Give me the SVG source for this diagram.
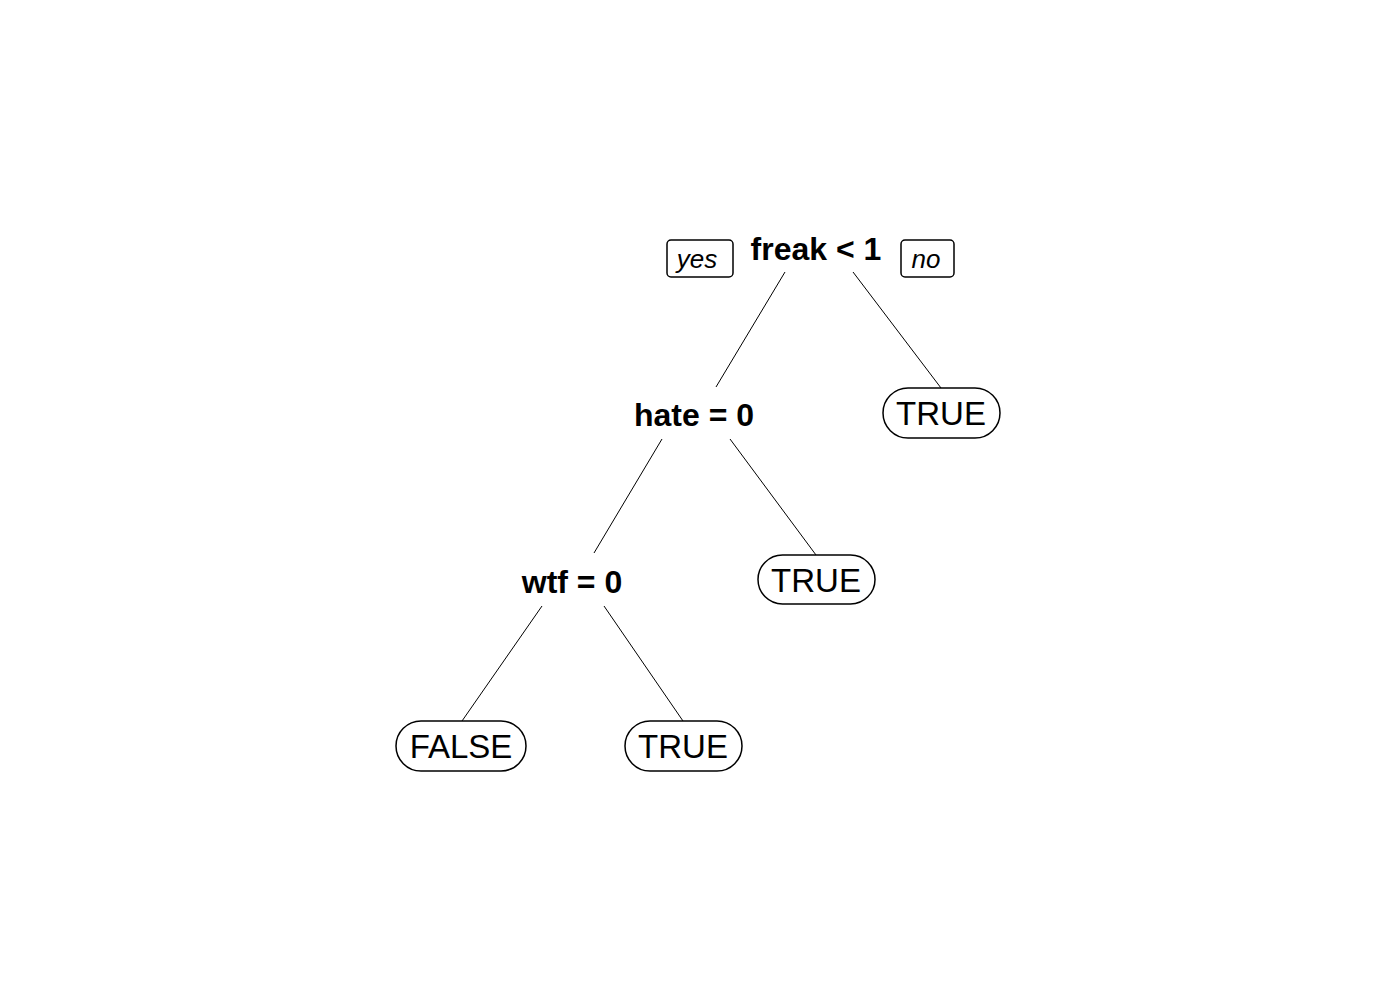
<svg xmlns="http://www.w3.org/2000/svg" width="1400" height="1000" viewBox="0 0 1400 1000">
<style>
.split{font-family:"Liberation Sans",Arial,sans-serif;font-weight:bold;font-size:32px;text-anchor:middle;fill:#000}
.leaf rect{fill:#fff;stroke:#000;stroke-width:1.5}
.leaf text{font-family:"Liberation Sans",Arial,sans-serif;font-size:33px;text-anchor:middle;fill:#000}
.tag rect{fill:#fff;stroke:#000;stroke-width:1.5}
.tag text{font-family:"Liberation Sans",Arial,sans-serif;font-style:italic;font-size:26px;text-anchor:middle;fill:#000}
#connectors line{stroke:#000;stroke-width:1}
</style>
<rect width="1400" height="1000" fill="#fff"/>
<g id="connectors">
<line x1="785" y1="272" x2="716" y2="387"/>
<line x1="853" y1="272" x2="941" y2="388"/>
<line x1="662" y1="439" x2="594" y2="553"/>
<line x1="730" y1="439" x2="816" y2="555"/>
<line x1="542" y1="606" x2="462" y2="721"/>
<line x1="604" y1="606" x2="683" y2="721"/>
</g>
<g id="tag-yes" class="tag"><rect x="667" y="240" width="66" height="37" rx="4"/><text x="697" y="268">yes</text></g>
<g id="tag-no" class="tag"><rect x="901" y="240" width="53" height="37" rx="4"/><text x="926" y="268">no</text></g>
<g id="node-freak"><text class="split" x="816" y="260">freak &lt; 1</text></g>
<g id="node-hate"><text class="split" x="694" y="426">hate = 0</text></g>
<g id="node-wtf"><text class="split" x="572" y="593">wtf = 0</text></g>
<g id="leaf-true1" class="leaf"><rect x="883" y="388" width="117" height="50" rx="25"/><text x="941" y="425">TRUE</text></g>
<g id="leaf-true2" class="leaf"><rect x="758" y="555" width="117" height="49" rx="24.5"/><text x="816" y="592">TRUE</text></g>
<g id="leaf-false" class="leaf"><rect x="396" y="721" width="130" height="50" rx="25"/><text x="461" y="758">FALSE</text></g>
<g id="leaf-true3" class="leaf"><rect x="625" y="721" width="117" height="50" rx="25"/><text x="683" y="758">TRUE</text></g>
</svg>
